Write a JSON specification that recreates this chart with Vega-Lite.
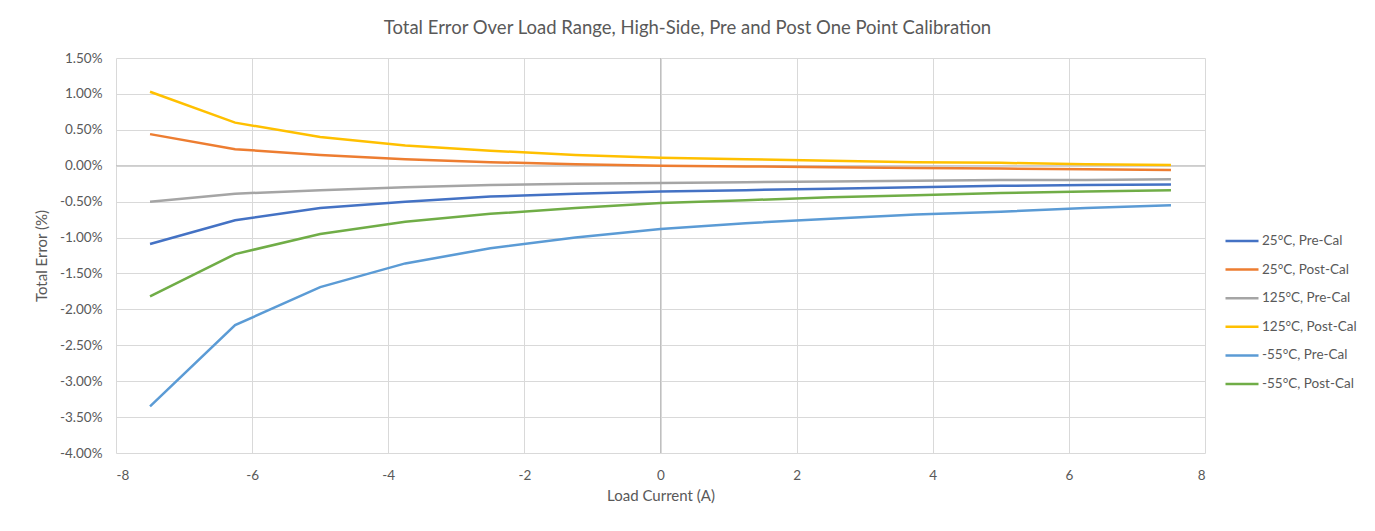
{
  "$schema": "https://vega.github.io/schema/vega-lite/v6.json",
  "autosize": "none",
  "width": 1089,
  "height": 395,
  "padding": {"left": 116, "top": 58, "right": 170, "bottom": 78},
  "background": "white",
  "title": {
    "text": "Total Error Over Load Range, High-Side, Pre and Post One Point Calibration",
    "font": "Lato",
    "fontSize": 18.5,
    "fontWeight": "normal",
    "color": "#595959",
    "anchor": "middle",
    "frame": "group",
    "dx": 27,
    "offset": 14
  },
  "config": {
    "view": {"stroke": null},
    "font": "Lato",
    "axis": {
      "labelFont": "Lato",
      "titleFont": "Lato",
      "labelColor": "#595959",
      "titleColor": "#595959",
      "labelFontSize": 13.5,
      "titleFontSize": 15,
      "titleFontWeight": "normal",
      "gridColor": "#d9d9d9",
      "gridWidth": 1,
      "ticks": false,
      "domain": false,
      "labelOverlap": false
    },
    "legend": {
      "labelFont": "Lato",
      "labelColor": "#595959",
      "labelFontSize": 13.5
    }
  },
  "datasets": {
    "series": [
      {"series": "25°C, Pre-Cal", "current": -7.5, "error": -0.0109},
      {"series": "25°C, Pre-Cal", "current": -6.25, "error": -0.0076},
      {"series": "25°C, Pre-Cal", "current": -5, "error": -0.0059},
      {"series": "25°C, Pre-Cal", "current": -3.75, "error": -0.0050},
      {"series": "25°C, Pre-Cal", "current": -2.5, "error": -0.0043},
      {"series": "25°C, Pre-Cal", "current": -1.25, "error": -0.0039},
      {"series": "25°C, Pre-Cal", "current": 0, "error": -0.0036},
      {"series": "25°C, Pre-Cal", "current": 1.25, "error": -0.0034},
      {"series": "25°C, Pre-Cal", "current": 2.5, "error": -0.0032},
      {"series": "25°C, Pre-Cal", "current": 3.75, "error": -0.0030},
      {"series": "25°C, Pre-Cal", "current": 5, "error": -0.0028},
      {"series": "25°C, Pre-Cal", "current": 6.25, "error": -0.0027},
      {"series": "25°C, Pre-Cal", "current": 7.5, "error": -0.0026},

      {"series": "25°C, Post-Cal", "current": -7.5, "error": 0.0044},
      {"series": "25°C, Post-Cal", "current": -6.25, "error": 0.0023},
      {"series": "25°C, Post-Cal", "current": -5, "error": 0.0015},
      {"series": "25°C, Post-Cal", "current": -3.75, "error": 0.0009},
      {"series": "25°C, Post-Cal", "current": -2.5, "error": 0.0005},
      {"series": "25°C, Post-Cal", "current": -1.25, "error": 0.0002},
      {"series": "25°C, Post-Cal", "current": 0, "error": 0.0000},
      {"series": "25°C, Post-Cal", "current": 1.25, "error": -0.0001},
      {"series": "25°C, Post-Cal", "current": 2.5, "error": -0.0002},
      {"series": "25°C, Post-Cal", "current": 3.75, "error": -0.0003},
      {"series": "25°C, Post-Cal", "current": 5, "error": -0.0004},
      {"series": "25°C, Post-Cal", "current": 6.25, "error": -0.0005},
      {"series": "25°C, Post-Cal", "current": 7.5, "error": -0.0006},

      {"series": "125°C, Pre-Cal", "current": -7.5, "error": -0.0050},
      {"series": "125°C, Pre-Cal", "current": -6.25, "error": -0.0039},
      {"series": "125°C, Pre-Cal", "current": -5, "error": -0.0034},
      {"series": "125°C, Pre-Cal", "current": -3.75, "error": -0.0030},
      {"series": "125°C, Pre-Cal", "current": -2.5, "error": -0.0027},
      {"series": "125°C, Pre-Cal", "current": -1.25, "error": -0.0025},
      {"series": "125°C, Pre-Cal", "current": 0, "error": -0.0024},
      {"series": "125°C, Pre-Cal", "current": 1.25, "error": -0.0023},
      {"series": "125°C, Pre-Cal", "current": 2.5, "error": -0.0022},
      {"series": "125°C, Pre-Cal", "current": 3.75, "error": -0.0021},
      {"series": "125°C, Pre-Cal", "current": 5, "error": -0.0020},
      {"series": "125°C, Pre-Cal", "current": 6.25, "error": -0.0020},
      {"series": "125°C, Pre-Cal", "current": 7.5, "error": -0.0019},

      {"series": "125°C, Post-Cal", "current": -7.5, "error": 0.0103},
      {"series": "125°C, Post-Cal", "current": -6.25, "error": 0.0060},
      {"series": "125°C, Post-Cal", "current": -5, "error": 0.0040},
      {"series": "125°C, Post-Cal", "current": -3.75, "error": 0.0028},
      {"series": "125°C, Post-Cal", "current": -2.5, "error": 0.0021},
      {"series": "125°C, Post-Cal", "current": -1.25, "error": 0.0015},
      {"series": "125°C, Post-Cal", "current": 0, "error": 0.0011},
      {"series": "125°C, Post-Cal", "current": 1.25, "error": 0.0009},
      {"series": "125°C, Post-Cal", "current": 2.5, "error": 0.0007},
      {"series": "125°C, Post-Cal", "current": 3.75, "error": 0.0005},
      {"series": "125°C, Post-Cal", "current": 5, "error": 0.0004},
      {"series": "125°C, Post-Cal", "current": 6.25, "error": 0.0002},
      {"series": "125°C, Post-Cal", "current": 7.5, "error": 0.0001},

      {"series": "-55°C, Pre-Cal", "current": -7.5, "error": -0.0335},
      {"series": "-55°C, Pre-Cal", "current": -6.25, "error": -0.0222},
      {"series": "-55°C, Pre-Cal", "current": -5, "error": -0.0169},
      {"series": "-55°C, Pre-Cal", "current": -3.75, "error": -0.0136},
      {"series": "-55°C, Pre-Cal", "current": -2.5, "error": -0.0115},
      {"series": "-55°C, Pre-Cal", "current": -1.25, "error": -0.0100},
      {"series": "-55°C, Pre-Cal", "current": 0, "error": -0.0088},
      {"series": "-55°C, Pre-Cal", "current": 1.25, "error": -0.0080},
      {"series": "-55°C, Pre-Cal", "current": 2.5, "error": -0.0074},
      {"series": "-55°C, Pre-Cal", "current": 3.75, "error": -0.0068},
      {"series": "-55°C, Pre-Cal", "current": 5, "error": -0.0064},
      {"series": "-55°C, Pre-Cal", "current": 6.25, "error": -0.0059},
      {"series": "-55°C, Pre-Cal", "current": 7.5, "error": -0.0055},

      {"series": "-55°C, Post-Cal", "current": -7.5, "error": -0.0182},
      {"series": "-55°C, Post-Cal", "current": -6.25, "error": -0.0123},
      {"series": "-55°C, Post-Cal", "current": -5, "error": -0.0095},
      {"series": "-55°C, Post-Cal", "current": -3.75, "error": -0.0078},
      {"series": "-55°C, Post-Cal", "current": -2.5, "error": -0.0067},
      {"series": "-55°C, Post-Cal", "current": -1.25, "error": -0.0059},
      {"series": "-55°C, Post-Cal", "current": 0, "error": -0.0052},
      {"series": "-55°C, Post-Cal", "current": 1.25, "error": -0.0048},
      {"series": "-55°C, Post-Cal", "current": 2.5, "error": -0.0044},
      {"series": "-55°C, Post-Cal", "current": 3.75, "error": -0.0041},
      {"series": "-55°C, Post-Cal", "current": 5, "error": -0.0038},
      {"series": "-55°C, Post-Cal", "current": 6.25, "error": -0.0036},
      {"series": "-55°C, Post-Cal", "current": 7.5, "error": -0.0034}
    ],
    "zero": [{"current": 0, "error": 0}]
  },
  "encoding": {
    "x": {
      "field": "current",
      "type": "quantitative",
      "title": "Load Current (A)",
      "scale": {"domain": [-8, 8], "nice": false, "zero": false},
      "axis": {
        "values": [-8, -6, -4, -2, 0, 2, 4, 6, 8],
        "labelPadding": 15,
        "titlePadding": 7,
        "labelOverlap": false,
        "labelExpr": "replace(format(datum.value, 'd'), '\u2212', '-')"
      }
    },
    "y": {
      "field": "error",
      "type": "quantitative",
      "title": "Total Error (%)",
      "scale": {"domain": [-0.04, 0.015], "nice": false, "zero": false},
      "axis": {
        "values": [-0.04, -0.035, -0.03, -0.025, -0.02, -0.015, -0.01, -0.005, 0, 0.005, 0.01, 0.0149999],
        "labelPadding": 14,
        "titlePadding": 10,
        "labelOverlap": false,
        "labelBound": false,
        "labelExpr": "replace(format(datum.value, '.2%'), '\u2212', '-')"
      }
    }
  },
  "layer": [
    {
      "data": {"name": "zero"},
      "mark": {"type": "rule", "color": "#bfbfbf", "strokeWidth": 1},
      "encoding": {"y": null}
    },
    {
      "data": {"name": "zero"},
      "mark": {"type": "rule", "color": "#bfbfbf", "strokeWidth": 1},
      "encoding": {"x": null}
    },
    {
      "data": {"name": "series"},
      "mark": {"type": "line", "strokeWidth": 2.5, "interpolate": "linear"},
      "encoding": {
        "color": {
          "field": "series",
          "type": "nominal",
          "title": null,
          "scale": {
            "domain": ["25°C, Pre-Cal", "25°C, Post-Cal", "125°C, Pre-Cal", "125°C, Post-Cal", "-55°C, Pre-Cal", "-55°C, Post-Cal"],
            "range": ["#4472C4", "#ED7D31", "#A5A5A5", "#FFC000", "#5B9BD5", "#70AD47"]
          },
          "legend": {
            "orient": "none",
            "legendX": 1108,
            "legendY": 175,
            "symbolType": "stroke",
            "symbolSize": 1089,
            "symbolStrokeWidth": 2.5,
            "clipHeight": 16,
            "rowPadding": 12.6,
            "labelOffset": 2
          }
        }
      }
    }
  ]
}
